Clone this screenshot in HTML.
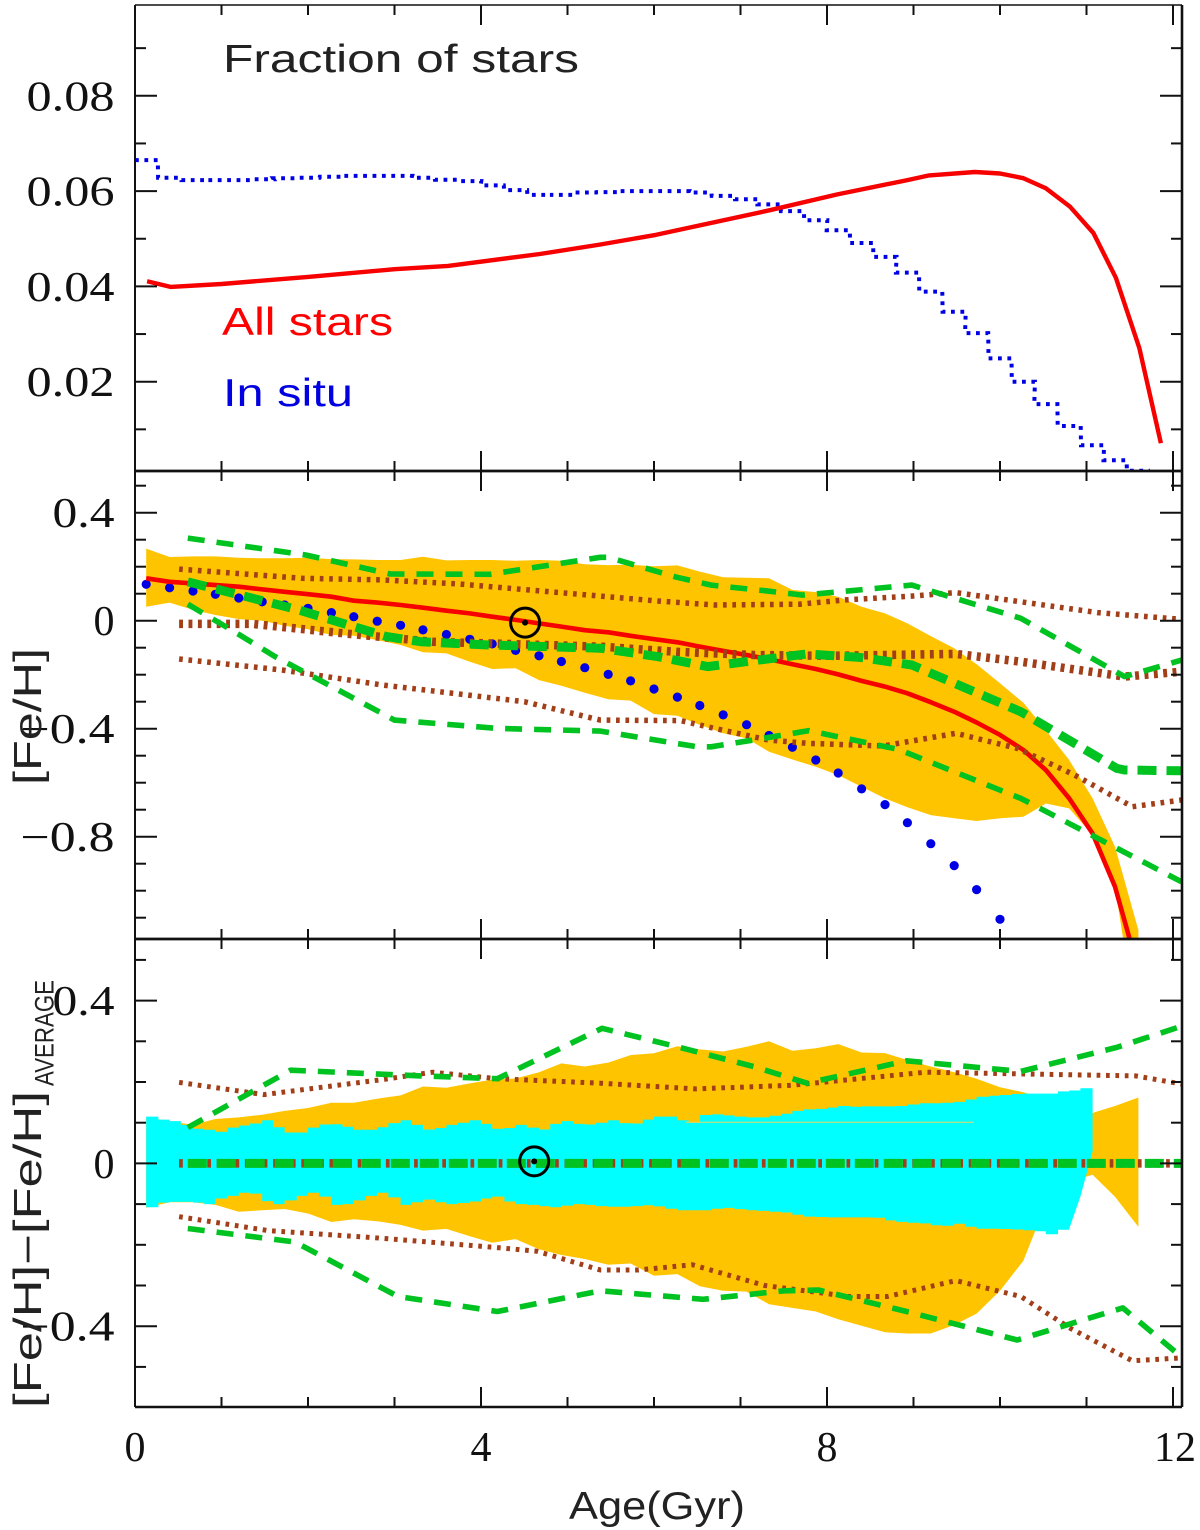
<!DOCTYPE html>
<html lang="en">
<head>
<meta charset="utf-8">
<title>Fraction of stars and metallicity versus age</title>
<style>
html,body{margin:0;padding:0;background:#fff;width:1200px;height:1530px;overflow:hidden}
svg{display:block}
text{font-family:"Liberation Sans",sans-serif}
.num{font-family:"Liberation Serif",serif;font-size:42px;fill:#111}
.lab{font-family:"Liberation Sans",sans-serif;font-size:39px;fill:#222}
</style>
</head>
<body>
<svg id="chart" xmlns="http://www.w3.org/2000/svg" width="1200" height="1530" viewBox="0 0 1200 1530">
  <defs>
    <clipPath id="clip-top"><rect x="135" y="5" width="1047" height="466"/></clipPath>
    <clipPath id="clip-mid"><rect x="135" y="471" width="1047" height="468"/></clipPath>
    <clipPath id="clip-bot"><rect x="135" y="939" width="1047" height="468"/></clipPath>
  </defs>
  <g id="layer-top" clip-path="url(#clip-top)"></g>
  <g id="layer-mid" clip-path="url(#clip-mid)"></g>
  <g id="layer-bot" clip-path="url(#clip-bot)"></g>
  <g id="layer-axes"></g>
  <text x="223" y="72" class="lab" textLength="356" lengthAdjust="spacingAndGlyphs">Fraction of stars</text>
  <text x="222" y="335" class="lab" style="fill:#f00" textLength="171" lengthAdjust="spacingAndGlyphs">All stars</text>
  <text x="223" y="406" class="lab" style="fill:#0000e0" textLength="130" lengthAdjust="spacingAndGlyphs">In situ</text>
  <text transform="translate(41,785) rotate(-90)" class="lab" textLength="137" lengthAdjust="spacingAndGlyphs">[Fe/H]</text>
  <text transform="translate(41,1408) rotate(-90)" class="lab" textLength="317" lengthAdjust="spacingAndGlyphs">[Fe/H]−[Fe/H]</text>
  <text transform="translate(53.5,1086) rotate(-90)" style="font-size:27px;fill:#222" textLength="106" lengthAdjust="spacingAndGlyphs">AVERAGE</text>
  <text x="569" y="1519" class="lab" textLength="176" lengthAdjust="spacingAndGlyphs">Age(Gyr)</text>
</svg>
<script>
// ---- shared age grid (Gyr) ----
const ages = [.13,.40,.67,.93,1.20,1.47,1.73,2.00,2.27,2.53,2.80,3.07,3.33,3.60,3.87,4.13,4.40,4.67,4.93,5.20,5.47,5.73,6.00,6.27,6.53,6.80,7.07,7.33,7.60,7.87,8.13,8.40,8.67,8.93,9.20,9.47,9.73,10.00,10.27,10.53,10.80,11.07,11.33,11.60];

// ---- top panel: fraction of stars ----
const allStarsAges = [.14,.41,1.0,2.0,3.0,3.62,4.68,5.38,6.02,7.34,8.12,8.93,9.18,9.71,10.0,10.27,10.53,10.81,11.08,11.34,11.61,11.86];
const allStarsFraction = [.0411,.0399,.0405,.042,.0436,.0443,.0468,.0488,.0508,.056,.0593,.0623,.0633,.064,.0637,.0627,.0606,.0567,.0512,.0418,.0271,.0071];
const inSituFraction = [.0665,.0628,.0623,.0623,.0623,.0625,.0627,.0628,.063,.0632,.0632,.0632,.0628,.0624,.0621,.0612,.0602,.0592,.0592,.0597,.0598,.06,.06,.06,.0597,.059,.0583,.0572,.0558,.0539,.0518,.0491,.0462,.0429,.0389,.0347,.0302,.0249,.02,.0153,.0107,.00665,.0035,.0013];

// ---- middle panel: [Fe/H] ----
const midBandHigh = [.267,.236,.238,.238,.233,.231,.231,.233,.228,.227,.225,.225,.237,.2235,.225,.225,.222,.225,.222,.209,.206,.207,.202,.205,.182,.161,.159,.157,.114,.106,.089,.052,.027,-.010,-.057,-.102,-.161,-.232,-.304,-.405,-.516,-.658,-.837,-1.146];
const midBandLow = [.052,.067,.040,.021,.006,0,-.0185,-.032,-.053,-.056,-.072,-.090,-.117,-.121,-.152,-.179,-.176,-.220,-.241,-.267,-.291,-.296,-.346,-.352,-.386,-.417,-.436,-.485,-.514,-.541,-.572,-.615,-.658,-.691,-.720,-.732,-.742,-.732,-.726,-.677,-.695,-.794,-.985,-1.54];
const midMean = [.157,.144,.138,.132,.126,.116,.107,.098,.089,.074,.067,.058,.048,.037,.027,.015,.003,-.010,-.022,-.035,-.043,-.056,-.068,-.080,-.096,-.112,-.127,-.143,-.161,-.179,-.199,-.223,-.244,-.269,-.302,-.337,-.377,-.423,-.479,-.553,-.658,-.788,-.985,-1.294];
const midInSitu = [.1347,.122,.110,.0976,.084,.070,.058,.046,.030,.015,-.002,-.017,-.034,-.051,-.069,-.086,-.110,-.130,-.151,-.174,-.199,-.223,-.253,-.283,-.314,-.349,-.385,-.425,-.469,-.516,-.564,-.623,-.681,-.748,-.826,-.907,-.996,-1.106];
const midGreenUpAges = [.61,1.98,2.95,4.10,5.38,5.47,6.26,6.66,7.28,7.72,8.98,10.24,11.44,12.1];
const midGreenUp = [.306,.243,.173,.172,.235,.235,.161,.132,.111,.095,.132,.009,-.207,-.146];
const midGreenMedAges = [.61,1.29,1.89,2.91,3.31,4.10,5.38,6.04,6.62,7.77,8.38,8.98,10.24,11.35,11.44,12.1];
const midGreenMed = [.144,.089,.040,-.059,-.078,-.090,-.102,-.133,-.170,-.123,-.136,-.164,-.337,-.547,-.553,-.556];
const midGreenLowAges = [.61,1.18,1.62,2.24,2.82,3.0,4.19,5.38,6.5,6.66,7.15,7.79,8.83,10.24,12.1];
const midGreenLow = [.061,-.047,-.133,-.238,-.337,-.368,-.399,-.409,-.467,-.467,-.442,-.407,-.477,-.658,-.967];
const midBrownUpAges = [.51,1.93,2.86,3.75,5.38,6.04,6.70,7.68,8.21,8.98,9.49,10.24,11.13,12.1];
const midBrownUp = [.191,.157,.151,.136,.091,.073,.058,.061,.077,.091,.104,.070,.030,.005];
const midBrownMedAges = [.51,1.36,2.42,3.44,5.38,6.26,7.15,8.03,9.49,10.24,11.44,12.1];
const midBrownMed = [-.012,-.012,-.047,-.078,-.096,-.115,-.127,-.130,-.123,-.152,-.207,-.189];
const midBrownLowAges = [.51,1.71,2.86,4.5,5.38,6.31,6.70,7.32,7.77,8.65,9.49,10.2,10.86,11.53,12.1];
const midBrownLow = [-.142,-.183,-.238,-.300,-.368,-.370,-.399,-.442,-.454,-.464,-.417,-.473,-.571,-.689,-.664];
const midSun = [4.51,-.007];

// ---- bottom panel: [Fe/H] - [Fe/H]average ----
const botBandHigh = [.113,.104,.0946,.109,.113,.1196,.129,.136,.149,.149,.159,.167,.189,.186,.1966,.206,.2086,.224,.2457,.238,.2476,.266,.2707,.288,.280,.275,.2865,.300,.277,.283,.293,.2726,.271,.254,.238,.224,.208,.187,.175,.159,.141,.124,.141,.162];
const botBandLow = [-.109,-.0955,-.0955,-.102,-.119,-.115,-.112,-.123,-.144,-.137,-.142,-.151,-.165,-.161,-.179,-.195,-.186,-.211,-.225,-.235,-.249,-.246,-.276,-.272,-.302,-.313,-.315,-.346,-.355,-.364,-.383,-.399,-.415,-.418,-.418,-.397,-.369,-.313,-.239,-.100,-.045,-.028,-.082,-.156];
const cyanAges = [.13,.27,.40,.53,.67,.80,.93,1.07,1.20,1.33,1.47,1.60,1.73,1.87,2.00,2.13,2.27,2.40,2.53,2.67,2.80,2.93,3.07,3.20,3.33,3.47,3.60,3.73,3.87,4.00,4.13,4.27,4.40,4.53,4.67,4.80,4.93,5.07,5.20,5.33,5.47,5.60,5.73,5.87,6.00,6.13,6.27,6.40,6.53,6.67,6.80,6.93,7.07,7.20,7.33,7.47,7.60,7.73,7.87,8.00,8.13,8.27,8.40,8.53,8.67,8.80,8.93,9.07,9.20,9.33,9.47,9.60,9.73,9.87,10.00,10.13,10.27,10.40,10.53,10.67,10.80,10.93,11.07];
const cyanHigh = [.115,.1075,.104,.0946,.085,.0825,.078,.088,.093,.098,.106,.089,.076,.076,.088,.0955,.096,.090,.0825,.0825,.089,.099,.106,.0946,.0834,.087,.0946,.100,.106,.097,.085,.087,.0946,.088,.0834,.097,.104,.097,.0955,.100,.106,.099,.098,.1075,.115,.115,.106,.100,.119,.1205,.118,.115,.113,.113,.117,.122,.129,.1326,.134,.137,.141,.139,.140,.140,.140,.141,.1446,.148,.148,.149,.151,.157,.164,.166,.168,.1706,.1715,.1715,.1715,.177,.179,.1845,.187];
const cyanLow = [-.1076,-.0964,-.0946,-.0946,-.0964,-.1001,-.0862,-.0798,-.0723,-.0742,-.0927,-.1001,-.0909,-.0798,-.0723,-.0816,-.102,-.1001,-.0909,-.0798,-.0723,-.0835,-.102,-.0955,-.089,-.0955,-.1001,-.0974,-.0937,-.0862,-.0816,-.0937,-.1001,-.102,-.1048,-.1076,-.1038,-.1001,-.102,-.1048,-.1066,-.1066,-.1048,-.1029,-.1057,-.1113,-.115,-.115,-.115,-.1113,-.1094,-.1122,-.115,-.1168,-.1187,-.1206,-.1261,-.1307,-.1317,-.1326,-.1326,-.1326,-.1326,-.1335,-.14,-.1437,-.1456,-.1474,-.1521,-.153,-.1484,-.1558,-.1604,-.1604,-.1613,-.1623,-.1641,-.1669,-.1743,-.1632,-.1604,-.0816,.030];
const botSliverAges = [6.37,9.7];
const botSliver = [.101,.101];
const botZeroAges = [.51,12.1];
const botZero = [0,0];
const botZeroGreenAges = [.61,12.1];
const botGreenUpAges = [.61,1.80,3.31,4.19,5.40,6.26,7.15,7.77,8.92,10.24,11.35,12.1];
const botGreenUp = [.088,.229,.215,.208,.332,.287,.238,.197,.252,.226,.285,.337];
const botGreenLowAges = [.61,1.85,3.04,4.19,5.38,6.57,7.5,7.9,8.92,10.2,11.42,12.1];
const botGreenLow = [-.160,-.193,-.327,-.364,-.313,-.334,-.313,-.311,-.364,-.434,-.355,-.476];
const botBrownUpAges = [.51,1.49,2.86,3.44,4.19,5.38,6.48,7.59,9.14,10.24,11.57,12.1];
const botBrownUp = [.199,.169,.206,.224,.208,.197,.183,.192,.224,.220,.215,.195];
const botBrownLowAges = [.51,1.54,2.86,4.19,4.65,5.38,5.82,6.44,7.28,8.25,8.70,9.49,10.24,10.82,11.53,12.1];
const botBrownLow = [-.131,-.165,-.184,-.207,-.216,-.262,-.262,-.249,-.300,-.327,-.327,-.288,-.327,-.406,-.485,-.478];
const botSun = [4.615,.005];

// ---- tick definitions ----
const xMinorTicks = [1,2,3,5,6,7,9,10,11];
const xMajorTicks = [4,8,12];
const xTickLabels = ["0","4","8","12"];
const xTickLabelValues = [0,4,8,12];
const topMajorTicks = [.02,.04,.06,.08];
const topMinorTicks = [.01,.03,.05,.07,.09];
const topTickLabels = ["0.02","0.04","0.06","0.08"];
const midMajorTicks = [-.8,-.4,0,.4];
const midMinorTicks = [-1.1,-1,-.9,-.7,-.6,-.5,-.3,-.2,-.1,.1,.2,.3,.5];
const midTickLabels = ["−0.8","−0.4","0","0.4"];
const botMajorTicks = [-.4,0,.4];
const botMinorTicks = [-.5,-.3,-.2,-.1,.1,.2,.3,.5];
const botTickLabels = ["−0.4","0","0.4"];

// ---- axis functions ----
function xAge(a){return 135+86.5*a;}
function yTop(v){return 381.7+(0.02-v)*4765;}
function yMid(v){return 620.7-270*v;}
function yBot(v){return 1163.4-407*v;}

const SVG_NS='http://www.w3.org/2000/svg';
const ORANGE='#ffc400',CYAN='#00ffff',GREEN='#00c220',BROWN='#a23e18',RED='#f60000',BLUE='#0000e4';
function layer(id){return document.getElementById(id);}
function make(tag,parent,name){
  const el=document.createElementNS(SVG_NS,tag);
  
  
  parent.appendChild(el);
  return el;
}
function polyline(parent,name,xs,ys,yFn,color,width,dash){
  const el=make('polyline',parent,name);
  el.setAttribute('points',xs.map((a,i)=>xAge(a).toFixed(1)+','+yFn(ys[i]).toFixed(1)).join(' '));
  el.setAttribute('fill','none');
  el.setAttribute('stroke',color);
  el.setAttribute('stroke-width',width);
  el.setAttribute('stroke-linejoin','round');
  if(dash)el.setAttribute('stroke-dasharray',dash);
  return el;
}
function band(parent,name,xs,hi,lo,yFn,color){
  const el=make('polygon',parent,name);
  const up=hi.map((v,i)=>xAge(xs[i]).toFixed(1)+','+yFn(v).toFixed(1));
  const dn=lo.map((v,i)=>xAge(xs[i]).toFixed(1)+','+yFn(v).toFixed(1)).reverse();
  el.setAttribute('points',up.concat(dn).join(' '));
  el.setAttribute('fill',color);
  return el;
}
function sun(parent,name,pt,yFn){
  const g=make('g',parent,name);
  const c=make('circle',g,name+'-ring');
  c.setAttribute('cx',xAge(pt[0]));
  c.setAttribute('cy',yFn(pt[1]));
  c.setAttribute('r',14.5);
  c.setAttribute('fill','none');
  c.setAttribute('stroke','#000');
  c.setAttribute('stroke-width',3);
  const d=make('circle',g,name+'-dot');
  d.setAttribute('cx',xAge(pt[0]));
  d.setAttribute('cy',yFn(pt[1]));
  d.setAttribute('r',3);
  d.setAttribute('fill','#000');
}

// ---- top panel ----
(function(){
  const L=layer('layer-top');
  const pts=[];
  inSituFraction.forEach((v,i)=>{
    const half=.1333;
    const left=i===0?0:ages[i]-half;
    pts.push(xAge(left).toFixed(1)+','+yTop(v).toFixed(1));
    pts.push(xAge(ages[i]+half).toFixed(1)+','+yTop(v).toFixed(1));
  });
  const blue=make('polyline',L,'in-situ-fraction-line');
  blue.setAttribute('points',pts.join(' '));
  blue.setAttribute('fill','none');
  blue.setAttribute('stroke',BLUE);
  blue.setAttribute('stroke-width',4);
  blue.setAttribute('stroke-dasharray','3.8 5.6');
  polyline(L,'all-stars-fraction-line',allStarsAges,allStarsFraction,yTop,RED,4.4);
})();

// ---- middle panel ----
(function(){
  const L=layer('layer-mid');
  band(L,'metallicity-dispersion-band',ages,midBandHigh,midBandLow,yMid,ORANGE);
  midInSitu.forEach((v,i)=>{
    const c=make('circle',L,'in-situ-metallicity-dot');
    c.setAttribute('cx',xAge(ages[i]).toFixed(1));
    c.setAttribute('cy',yMid(v).toFixed(1));
    c.setAttribute('r',4.6);
    c.setAttribute('fill',BLUE);
  });
  polyline(L,'mean-metallicity-line',ages,midMean,yMid,RED,4.6);
  polyline(L,'brown-upper-dotted',midBrownUpAges,midBrownUp,yMid,BROWN,5.5,'3.7 5.7');
  polyline(L,'brown-median-dotted',midBrownMedAges,midBrownMed,yMid,BROWN,8.5,'3.9 5.5');
  polyline(L,'brown-lower-dotted',midBrownLowAges,midBrownLow,yMid,BROWN,5.5,'3.7 5.7');
  polyline(L,'green-upper-dashed',midGreenUpAges,midGreenUp,yMid,GREEN,5.6,'17 12');
  polyline(L,'green-median-dashed',midGreenMedAges,midGreenMed,yMid,GREEN,9,'19 10');
  polyline(L,'green-lower-dashed',midGreenLowAges,midGreenLow,yMid,GREEN,5.6,'17 12');
  sun(L,'sun-marker-metallicity',midSun,yMid);
})();

// ---- bottom panel ----
(function(){
  const L=layer('layer-bot');
  band(L,'relative-dispersion-band',ages,botBandHigh,botBandLow,yBot,ORANGE);
  const n=cyanAges.length, lastStep=n-3;
  const top=[],bot=[];
  for(let i=0;i<n-1;i++){
    top.push(xAge(cyanAges[i]).toFixed(1)+','+yBot(cyanHigh[i]).toFixed(1));
    top.push(xAge(cyanAges[i+1]).toFixed(1)+','+yBot(cyanHigh[i]).toFixed(1));
  }
  top.push(xAge(cyanAges[n-1]).toFixed(1)+','+yBot(cyanHigh[n-1]).toFixed(1));
  for(let i=n-1;i>=lastStep;i--){
    bot.push(xAge(cyanAges[i]).toFixed(1)+','+yBot(cyanLow[i]).toFixed(1));
  }
  for(let i=lastStep-1;i>=0;i--){
    bot.push(xAge(cyanAges[i+1]).toFixed(1)+','+yBot(cyanLow[i]).toFixed(1));
    bot.push(xAge(cyanAges[i]).toFixed(1)+','+yBot(cyanLow[i]).toFixed(1));
  }
  const cy=make('polygon',L,'in-situ-dispersion-band');
  cy.setAttribute('points',top.concat(bot).join(' '));
  cy.setAttribute('fill',CYAN);
  polyline(L,'orange-sliver-line',botSliverAges,botSliver,yBot,'#e8d860',1);
  polyline(L,'brown-upper-dotted-relative',botBrownUpAges,botBrownUp,yBot,BROWN,5,'3.7 5.7');
  polyline(L,'brown-zero-dotted',botZeroAges,botZero,yBot,BROWN,8.5,'3.7 5.7');
  polyline(L,'brown-lower-dotted-relative',botBrownLowAges,botBrownLow,yBot,BROWN,5,'3.7 5.7');
  polyline(L,'green-upper-dashed-relative',botGreenUpAges,botGreenUp,yBot,GREEN,5.6,'17 12');
  polyline(L,'green-zero-dashed',botZeroGreenAges,botZero,yBot,GREEN,9,'19 10');
  polyline(L,'green-lower-dashed-relative',botGreenLowAges,botGreenLow,yBot,GREEN,5.6,'17 12');
  sun(L,'sun-marker-relative',botSun,yBot);
})();

// ---- axes ----
(function(){
  const A=layer('layer-axes');
  function seg(g,name,x1,y1,x2,y2,w){
    const l=make('line',g,name);
    l.setAttribute('x1',x1);
    l.setAttribute('y1',y1);
    l.setAttribute('x2',x2);
    l.setAttribute('y2',y2);
    l.setAttribute('stroke','#111');
    l.setAttribute('stroke-width',w);
  }
  const L=135,R=1182;
  const panels=[
    {name:'fraction',top:5,bottom:471,fn:yTop,major:topMajorTicks,minor:topMinorTicks,labels:topTickLabels},
    {name:'metallicity',top:471,bottom:939,fn:yMid,major:midMajorTicks,minor:midMinorTicks,labels:midTickLabels},
    {name:'relative',top:939,bottom:1407,fn:yBot,major:botMajorTicks,minor:botMinorTicks,labels:botTickLabels}
  ];
  panels.forEach(p=>{
    const g=make('g',A,p.name+'-axis-group');
    seg(g,p.name+'-left-spine',L,p.top,L,p.bottom,2);
    seg(g,p.name+'-right-spine',R,p.top,R,p.bottom,2.6);
    seg(g,p.name+'-top-spine',L,p.top,R,p.top,p.top===5?1.5:2.4);
    seg(g,p.name+'-bottom-spine',L,p.bottom,R,p.bottom,2.4);
    xMinorTicks.forEach(a=>{
      seg(g,p.name+'-x-minor-tick-top',xAge(a),p.top,xAge(a),p.top+10,2);
      seg(g,p.name+'-x-minor-tick-bottom',xAge(a),p.bottom,xAge(a),p.bottom-10,2);
    });
    xMajorTicks.forEach(a=>{
      seg(g,p.name+'-x-major-tick-top',xAge(a),p.top,xAge(a),p.top+20,2);
      seg(g,p.name+'-x-major-tick-bottom',xAge(a),p.bottom,xAge(a),p.bottom-20,2);
    });
    p.minor.forEach(v=>{
      seg(g,p.name+'-y-minor-tick-left',L,p.fn(v),L+11,p.fn(v),2);
      seg(g,p.name+'-y-minor-tick-right',R,p.fn(v),R-11,p.fn(v),2);
    });
    p.major.forEach((v,i)=>{
      seg(g,p.name+'-y-major-tick-left',L,p.fn(v),L+22,p.fn(v),2);
      seg(g,p.name+'-y-major-tick-right',R,p.fn(v),R-22,p.fn(v),2);
      const t=make('text',g,p.name+'-y-tick-label');
      const s=p.labels[i];
      t.setAttribute('class','num');
      t.setAttribute('text-anchor','end');
      t.setAttribute('x',114.5);
      t.setAttribute('y',(p.fn(v)+14.5).toFixed(1));
      if(s.length>1){
        const digits=s.replace(/[^0-9]/g,'').length;
        const dots=s.includes('.')?1:0;
        const minus=s.includes('−')?1:0;
        t.setAttribute('textLength',digits*26+dots*10+minus*32);
        t.setAttribute('lengthAdjust','spacingAndGlyphs');
      }
      t.textContent=s;
    });
  });
  xTickLabels.forEach((s,i)=>{
    const t=make('text',A,'x-tick-label');
    t.setAttribute('class','num');
    t.setAttribute('text-anchor','middle');
    t.setAttribute('x',xAge(xTickLabelValues[i])+(s==='12'?2:0));
    t.setAttribute('y',1461);
    t.textContent=s;
  });
})();
</script>
</body>
</html>
